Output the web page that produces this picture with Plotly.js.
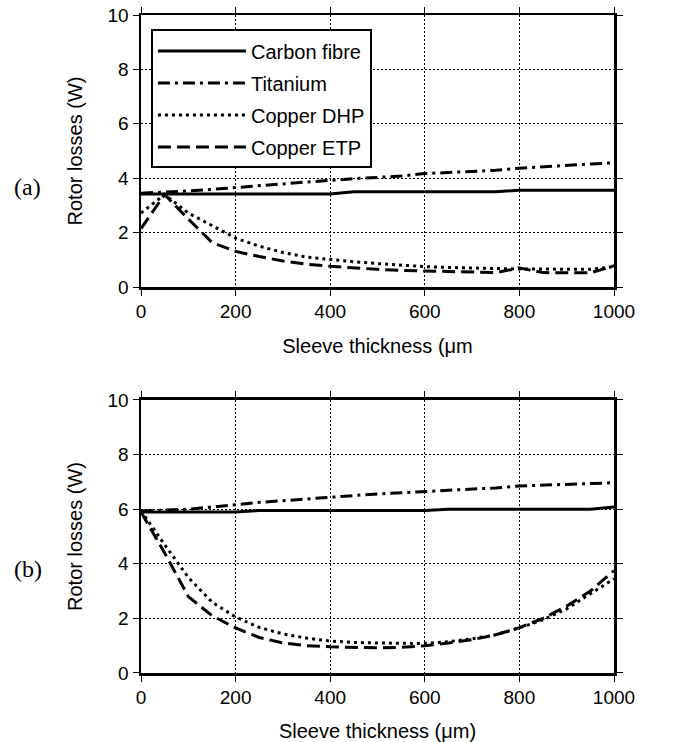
<!DOCTYPE html>
<html>
<head>
<meta charset="utf-8">
<script src="https://cdn.plot.ly/plotly-3.0.1.min.js"></script>
<style>html,body{margin:0;padding:0;background:#fff;}#chart{width:675px;height:742px;}</style>
</head>
<body>
<div id="chart"></div>
<script>
// Sleeve thickness (µm)
var thickness = [0,50,100,150,200,250,300,350,400,450,500,550,600,650,700,750,800,850,900,950,1000];

// (a) rotor losses (W)
var aCarbon   = [3.42,3.42,3.42,3.42,3.42,3.42,3.42,3.42,3.42,3.5,3.5,3.5,3.5,3.5,3.5,3.5,3.56,3.56,3.56,3.56,3.56];
var aTitanium = [3.45,3.48,3.53,3.59,3.65,3.72,3.79,3.86,3.93,3.98,4.03,4.08,4.17,4.21,4.25,4.29,4.37,4.42,4.45,4.5,4.57];
var aDHP      = [2.72,3.4,2.72,2.27,1.8,1.5,1.27,1.1,1.01,0.93,0.86,0.8,0.75,0.72,0.7,0.67,0.66,0.66,0.65,0.65,0.75];
var aETP      = [2.15,3.4,2.5,1.64,1.31,1.12,0.96,0.84,0.76,0.7,0.65,0.61,0.59,0.57,0.55,0.53,0.7,0.53,0.52,0.52,0.78];

// (b) rotor losses (W)
var bCarbon   = [5.9,5.9,5.9,5.9,5.9,5.95,5.95,5.95,5.95,5.95,5.95,5.95,5.95,6.0,6.0,6.0,6.0,6.0,6.0,6.0,6.08];
var bTitanium = [5.93,5.96,6.0,6.08,6.17,6.25,6.31,6.38,6.45,6.5,6.56,6.6,6.65,6.7,6.74,6.78,6.85,6.88,6.9,6.93,6.97];
var bDHP      = [5.95,4.7,3.5,2.6,2.05,1.67,1.43,1.28,1.17,1.12,1.1,1.1,1.08,1.15,1.25,1.4,1.65,1.95,2.35,2.9,3.45];
var bETP      = [5.9,4.4,2.8,2.1,1.65,1.3,1.1,1.0,0.96,0.93,0.92,0.94,1.0,1.1,1.22,1.4,1.66,2.0,2.45,3.0,3.75];

var names = ['Carbon fibre','Titanium','Copper DHP','Copper ETP'];
var dashes = ['solid','12px,5px,3px,5px','3px,4px','13px,6px'];
var panelA = [aCarbon,aTitanium,aDHP,aETP];
var panelB = [bCarbon,bTitanium,bDHP,bETP];

var traces = [];
panelA.forEach(function(ys,i){
  traces.push({x:thickness,y:ys,type:'scatter',mode:'lines',name:names[i],
    legendgroup:'g'+i,xaxis:'x',yaxis:'y',
    line:{color:'#000',width:3,dash:dashes[i]}});
});
panelB.forEach(function(ys,i){
  traces.push({x:thickness,y:ys,type:'scatter',mode:'lines',name:names[i],
    legendgroup:'g'+i,showlegend:false,xaxis:'x2',yaxis:'y2',
    line:{color:'#000',width:3,dash:dashes[i]}});
});

var fam = '"Liberation Sans", Arial, sans-serif';
var font = {family:fam, size:19, color:'#000'};
var tfont = {family:fam, size:20, color:'#000'};
function xax(anchor,title){
  return {anchor:anchor,range:[0,1000],dtick:200,tick0:0,showgrid:true,gridcolor:'#000',gridwidth:1,griddash:'2px,2px',
    zeroline:false,showline:true,linecolor:'#000',linewidth:2.5,mirror:'ticks',ticks:'outside',ticklen:6,tickwidth:1,tickcolor:'#000',
    tickfont:font,title:{text:title,font:tfont,standoff:18}};
}
function yax(anchor,domain){
  return {anchor:anchor,domain:domain,range:[0,10],dtick:2,tick0:0,showgrid:true,gridcolor:'#000',gridwidth:1,griddash:'2px,2px',
    zeroline:false,showline:true,linecolor:'#000',linewidth:2.5,mirror:'ticks',ticks:'outside',ticklen:6,tickwidth:1,tickcolor:'#000',
    tickfont:font,title:{text:'Rotor losses (W)',font:tfont,standoff:20}};
}

var layout = {
  width:675,height:742,
  margin:{l:141,r:61,t:15,b:69},
  paper_bgcolor:'#fff',plot_bgcolor:'#fff',
  font:font,
  showlegend:true,
  legend:{x:0.021,y:0.978,xanchor:'left',yanchor:'top',bgcolor:'#fff',bordercolor:'#000',borderwidth:2,
    font:tfont,itemwidth:88,tracegroupgap:3,traceorder:'grouped'},
  xaxis:xax('y','Sleeve thickness (μm'),
  yaxis:yax('x',[0.5866,1]),
  xaxis2:xax('y2','Sleeve thickness (μm)'),
  yaxis2:yax('x2',[0,0.4149]),
  annotations:[
    {text:'(a)',xref:'paper',yref:'paper',x:-0.239,y:0.7386,xanchor:'center',yanchor:'middle',showarrow:false,
     font:{family:'"Liberation Serif", "Times New Roman", serif',size:24,color:'#000'}},
    {text:'(b)',xref:'paper',yref:'paper',x:-0.239,y:0.158,xanchor:'center',yanchor:'middle',showarrow:false,
     font:{family:'"Liberation Serif", "Times New Roman", serif',size:24,color:'#000'}}
  ]
};

Plotly.newPlot('chart',traces,layout,{staticPlot:true,displayModeBar:false});
</script>
</body>
</html>
